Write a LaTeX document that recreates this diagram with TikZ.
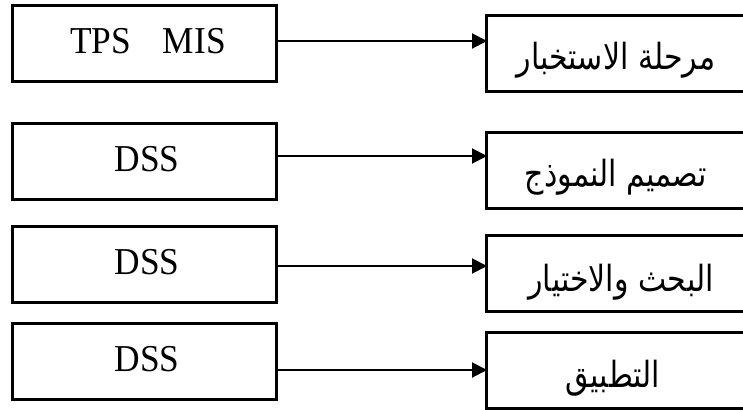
\documentclass[tikz,border=0pt]{standalone}
\usepackage{fontspec}
\setmainfont{Liberation Serif}
\newfontfamily\arabicfont[Script=Arabic]{DejaVu Sans}
\TeXXeTstate=1
\usetikzlibrary{arrows.meta}

% Latin labels: slightly condensed Times-like face
\newcommand{\systext}[1]{\scalebox{0.93}[1]{\fontsize{38}{40}\selectfont #1}}
% Arabic labels: a little taller than DejaVu's natural proportions
\newcommand{\phasetext}[1]{\scalebox{1}[1.2]{\arabicfont\fontsize{30}{34}\selectfont\beginR #1\endR}}

\tikzset{
  sysbox/.style={draw, line width=3pt, minimum width=264pt, minimum height=76pt,
    inner sep=0pt, outer sep=0pt},
  phasebox/.style={draw, line width=3pt, minimum width=300pt, minimum height=76pt,
    inner sep=0pt, outer sep=0pt},
  lbl/.style={anchor=base, inner sep=0pt},
  conn/.style={line width=2pt, -{Triangle[length=15pt, width=15pt]}, shorten >=-1pt}
}

\begin{document}
\begin{tikzpicture}[x=1pt, y=-1pt]
  \useasboundingbox (0,0) rectangle (743,409);
  \begin{scope}
    \clip (0,0) rectangle (743,409);

    % information systems (left column)
    \node[sysbox] (s1) at (144,44) {};
    \node[sysbox] (s2) at (144,161) {};
    \node[sysbox] (s3) at (144,264) {};
    \node[sysbox] (s4) at (144,361) {};

    \node[lbl] (ts1) at (148,54) {\systext{TPS\hspace{0.9em}MIS}};
    \node[lbl] (ts2) at (147,171) {\systext{DSS}};
    \node[lbl] (ts3) at (147,274) {\systext{DSS}};
    \node[lbl] (ts4) at (147,371) {\systext{DSS}};

    % decision phases (right column, running past the right margin)
    \node[phasebox] (p1) at (636,54) {};
    \node[phasebox] (p2) at (636,170.5) {};
    \node[phasebox] (p3) at (636,273.5) {};
    \node[phasebox] (p4) at (636,370) {};

    \node[lbl] (tp1) at (616,70) {\phasetext{مرحلة الاستخبار}};
    \node[lbl] (tp2) at (616,186) {\phasetext{تصميم النموذج}};
    \node[lbl] (tp3) at (621,291) {\phasetext{البحث والاختيار}};
    \node[lbl] (tp4) at (613,387) {\phasetext{التطبيق}};

    % connectors
    \draw[conn] (s1.east |- 0,41)  -- (p1.west |- 0,41);
    \draw[conn] (s2.east |- 0,156) -- (p2.west |- 0,156);
    \draw[conn] (s3.east |- 0,266) -- (p3.west |- 0,266);
    \draw[conn] (s4.east |- 0,370) -- (p4.west |- 0,370);
  \end{scope}
\end{tikzpicture}
\end{document}
